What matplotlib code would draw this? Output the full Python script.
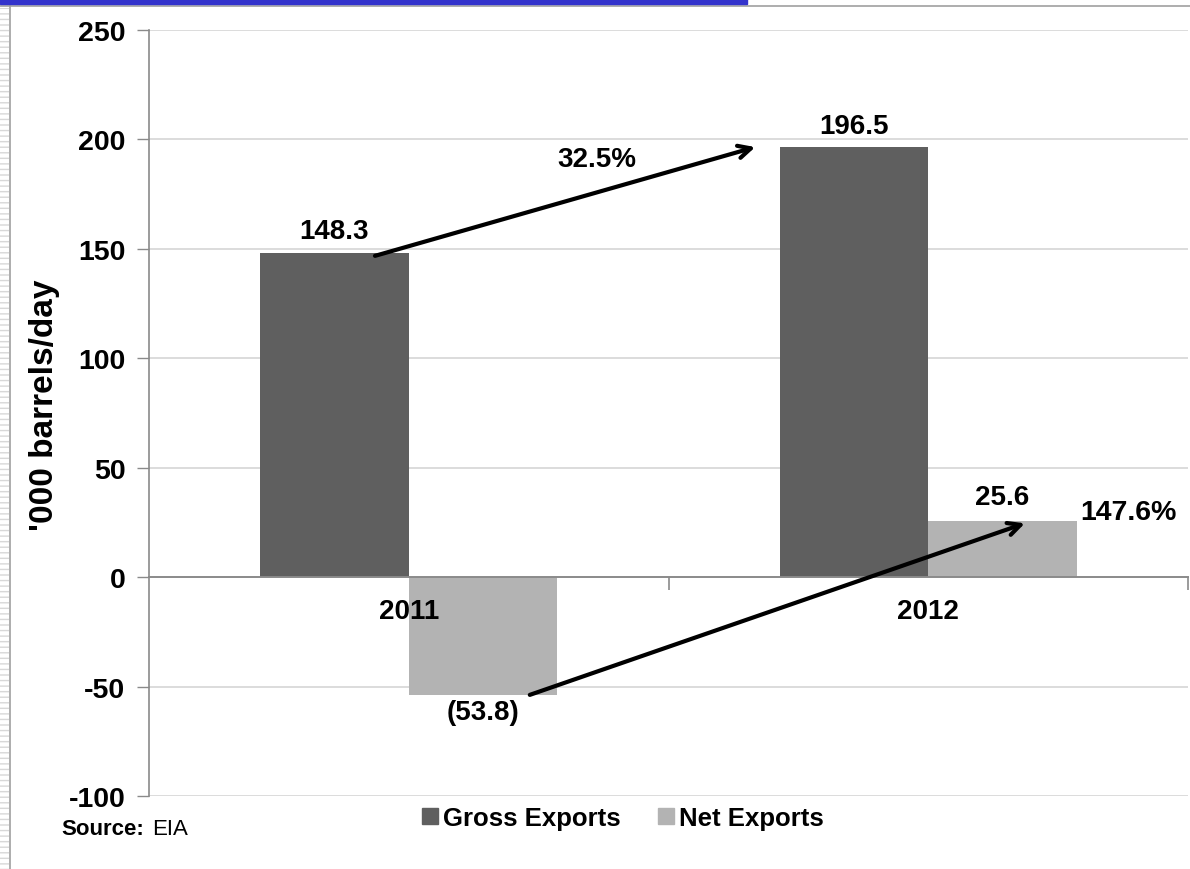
import matplotlib
matplotlib.use("Agg")
import matplotlib.pyplot as plt
from matplotlib.patches import Rectangle
from matplotlib.lines import Line2D

plt.rcParams['font.family'] = ['Liberation Sans', 'DejaVu Sans']
plt.rcParams['font.weight'] = 'bold'

# -------------------------------------------------------------------------------------
years = ['2011', '2012']
gross_exports = [148.3, 196.5]
net_exports = [-53.8, 25.6]
gross_change = '32.5%'
net_change = '147.6%'
y_ticks = [-100, -50, 0, 50, 100, 150, 200, 250]
# -------------------------------------------------------------------------------------

GROSS_COLOR = '#5f5f5f'
NET_COLOR = '#b3b3b3'
AXIS_COLOR = '#8a8a8a'
GRID_COLOR = '#d2d2d2'
BAR_W = 0.286

fig = plt.figure(figsize=(11.9, 8.7), dpi=100)
ax = fig.add_axes([149 / 1190, 73 / 870, 1039 / 1190, 766 / 870])

xs = list(range(len(years)))
gross_x = [x - BAR_W / 2 for x in xs]
net_x = [x + BAR_W / 2 for x in xs]
ax.bar(gross_x, gross_exports, width=BAR_W, color=GROSS_COLOR, zorder=2)
ax.bar(net_x, net_exports, width=BAR_W, color=NET_COLOR, zorder=2)

ax.set_xlim(-0.5, 1.5)
ax.set_ylim(-100, 250)
ax.set_yticks(y_ticks)
ax.set_yticklabels([str(t) for t in y_ticks], fontsize=20.5, fontweight='bold')
ax.tick_params(axis='y', length=9, width=1, color=AXIS_COLOR, pad=8)
ax.set_ylabel("'000 barrels/day", fontsize=24, fontweight='bold')
ax.yaxis.set_label_coords(-0.086, 0.512)

# horizontal gridlines
for t in y_ticks:
    if t != 0:
        ax.axhline(t, color=GRID_COLOR, lw=1.1, zorder=0)

# category axis sits at zero, labels drawn over the bars
ax.spines['bottom'].set_position(('data', 0))
ax.spines['bottom'].set_color(AXIS_COLOR)
ax.spines['bottom'].set_linewidth(1.4)
ax.spines['bottom'].set_zorder(3)
ax.spines['left'].set_color(AXIS_COLOR)
ax.spines['left'].set_linewidth(1.2)
ax.spines['top'].set_visible(False)
ax.spines['right'].set_visible(False)
ax.set_xticks(xs)
ax.set_xticklabels(years, fontsize=20, fontweight='bold')
ax.tick_params(axis='x', length=0, pad=15)
ax.set_xticks([0.5, 1.5], minor=True)
ax.tick_params(axis='x', which='minor', length=9, width=1.2, color=AXIS_COLOR)
ax.xaxis.set_zorder(5)

# value labels
for x, v in zip(gross_x, gross_exports):
    ax.annotate(f'{v:.1f}', (x, v), xytext=(0, 6), textcoords='offset points',
                ha='center', va='bottom', fontsize=20, fontweight='bold')
for x, v in zip(net_x, net_exports):
    txt = f'({abs(v):.1f})' if v < 0 else f'{v:.1f}'
    off = (0, -3) if v < 0 else (0, 8)
    ax.annotate(txt, (x, v), xytext=off, textcoords='offset points',
                ha='center', va='top' if v < 0 else 'bottom',
                fontsize=20, fontweight='bold')

# growth arrows between years
arrow = dict(arrowstyle='->,head_length=0.9,head_width=0.45', color='black', lw=3,
             shrinkA=0, shrinkB=0)
ax.annotate('', xy=(gross_x[1] - 0.19, gross_exports[1]),
            xytext=(gross_x[0] + 0.078, gross_exports[0] - 1.5), arrowprops=arrow, zorder=4)
ax.annotate('', xy=(net_x[1] + 0.043, net_exports[1] - 1),
            xytext=(net_x[0] + 0.09, net_exports[0]), arrowprops=arrow, zorder=4)
ax.text(0.363, 191, gross_change, ha='center', va='center', fontsize=20, fontweight='bold')
ax.text(1.385, 29.7, net_change, ha='center', va='center', fontsize=20.5, fontweight='bold')

# legend below the plot
handles = [Line2D([], [], marker='s', ls='', color=GROSS_COLOR, markersize=11.5),
           Line2D([], [], marker='s', ls='', color=NET_COLOR, markersize=11.5)]
fig.legend(handles, ['Gross Exports', 'Net Exports'], loc='center',
           bbox_to_anchor=(623 / 1190, 1 - 819 / 870), ncol=2, frameon=False,
           prop={'size': 18.5, 'weight': 'bold'}, handlelength=0.6, handletextpad=0.2,
           columnspacing=1.5)

fig.text(61 / 1190, 1 - 835 / 870, 'Source:', fontsize=16, fontweight='bold', va='baseline')
fig.text(152 / 1190, 1 - 835 / 870, 'EIA', fontsize=16, fontweight='normal', va='baseline')

# slide frame
fig.patches.append(Rectangle((0, 1 - 5 / 870), 747 / 1190, 5 / 870, transform=fig.transFigure,
                             color='#3333cc', zorder=10))
fig.lines.append(Line2D([0, 1], [1 - 7 / 870] * 2, transform=fig.transFigure,
                        color='#a0a0a0', lw=1.2))
fig.patches.append(Rectangle((0, 0), 9 / 1190, 1 - 9 / 870, transform=fig.transFigure,
                             facecolor='white', edgecolor='#d8d8d8', hatch='---', lw=0))
fig.lines.append(Line2D([10 / 1190] * 2, [0, 1 - 7 / 870], transform=fig.transFigure,
                        color='#a0a0a0', lw=1.2))

fig.savefig('out.png', dpi=100)
